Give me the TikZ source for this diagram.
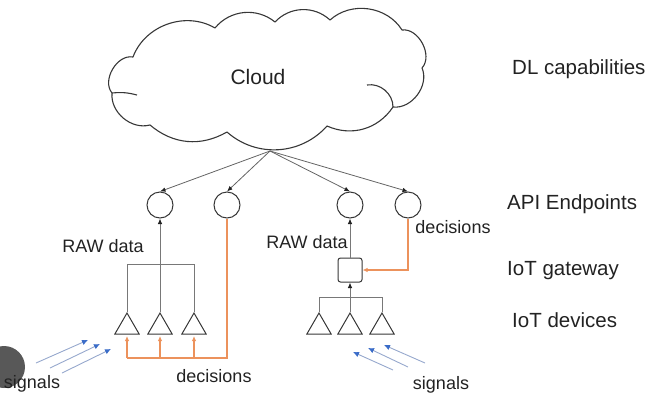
\documentclass[tikz,border=0pt]{standalone}
\usepackage{fontspec}
\setmainfont{Liberation Sans}
\usetikzlibrary{arrows.meta,shapes.geometric}
\definecolor{ink}{RGB}{34,34,34}
\definecolor{outline}{RGB}{55,55,55}
\definecolor{wire}{RGB}{120,120,120}
\definecolor{cloudwire}{RGB}{100,100,100}
\definecolor{decision}{RGB}{236,146,92}
\definecolor{sigshaft}{RGB}{150,168,205}
\definecolor{sigtip}{RGB}{58,108,200}
\definecolor{badge}{RGB}{88,88,88}
\tikzset{
  x=1pt, y=1pt,
  tip/.style={-{Latex[length=5.5pt,width=4.5pt,color=ink]}},
  endpoint/.style={circle, draw=outline, line width=1pt, minimum size=26pt, inner sep=0pt},
  device/.style={regular polygon, regular polygon sides=3, draw=outline, line width=1pt,
                 minimum size=28pt, inner sep=0pt},
  gateway/.style={rectangle, rounded corners=2.5pt, draw=outline, line width=1pt,
                  minimum size=24pt, inner sep=0pt},
  cline/.style={draw=cloudwire, line width=0.8pt, tip},
  gline/.style={draw=wire, line width=0.9pt},
  oline/.style={draw=decision, line width=1.1pt},
  otip/.style={-{Latex[length=5pt,width=4.5pt,color=decision]}},
  signal/.style={draw=sigshaft, line width=0.9pt,
                 -{Latex[length=6pt,width=5.5pt,color=sigtip]}},
  tag/.style={text=ink, font=\fontsize{18}{20}\selectfont, inner sep=0pt},
  layer/.style={text=ink, font=\fontsize{20.5}{23}\selectfont, inner sep=0pt, anchor=base west},
}
\begin{document}
\begin{tikzpicture}
\useasboundingbox (0,0) rectangle (650,-394);

% corner badge
\fill[badge] (4,-367) circle (21);

% cloud outline
\draw[outline, line width=1.1pt, line join=round]
  (112,-93) to[bend left=70] (133,-57)
  to[bend left=50] (215,-28)
  to[bend left=45] (275,-22)
  to[bend left=45] (330,-20)
  to[bend left=50] (402,-30)
  to[bend left=70] (422,-68)
  to[bend left=60] (393,-107)
  to[bend left=40] (327,-126)
  to[bend left=45] (227,-132)
  to[bend left=35] (150,-125)
  to[bend left=55] cycle;
\draw[outline, line width=1.1pt] (367,-85) to[bend left=50] (393,-107);
\draw[outline, line width=1.1pt] (112,-93) to[bend left=10] (137,-95);
\node[text=ink, font=\fontsize{21}{24}\selectfont] (cloud) at (258,-77) {Cloud};
\coordinate (cloudout) at (270,-151);

% API endpoints
\node[endpoint] (c1) at (160,-205) {};
\node[endpoint] (c2) at (227,-205) {};
\node[endpoint] (c3) at (350,-205) {};
\node[endpoint] (c4) at (408,-205) {};

% cloud to endpoints
\draw[cline] (cloudout) -- (c1.north);
\draw[cline] (cloudout) -- (c2.north);
\draw[cline] (cloudout) -- (c3.north);
\draw[cline] (cloudout) -- (c4.north);

% left group: devices wired straight to the cloud
\node[device] (tL1) at (127,-327) {};
\node[device] (tL2) at (160,-327) {};
\node[device] (tL3) at (194,-327) {};
\draw[gline] (tL1.corner 1) -- ++(0,48) -| (tL3.corner 1);
\draw[gline, tip] (tL2.corner 1) -- (c1.south);
\coordinate (oL) at (127,-358);
\draw[oline] (c2.south) |- (oL);
\draw[oline, otip, shorten >=1.5pt] (oL) -- (tL1.south);
\draw[oline, otip, shorten >=1.5pt] (tL2.south |- oL) -- (tL2.south);
\draw[oline, otip, shorten >=1.5pt] (tL3.south |- oL) -- (tL3.south);

% right group: devices behind a gateway
\node[gateway] (gw) at (350,-270) {};
\node[device] (tR1) at (319,-327) {};
\node[device] (tR2) at (350,-327) {};
\node[device] (tR3) at (382,-327) {};
\draw[gline] (tR1.corner 1) -- ++(0,15) -| (tR3.corner 1);
\draw[gline, tip] (tR2.corner 1) -- (gw.south);
\draw[gline, tip] (gw.north) -- (c3.south);
\draw[oline, otip] (c4.south) |- (gw.east);

% incoming signals
\coordinate (sa1) at (36,-363);  \coordinate (sa2) at (88,-340);
\coordinate (sb1) at (50,-368);  \coordinate (sb2) at (100,-344);
\coordinate (sc1) at (62,-373);  \coordinate (sc2) at (111,-349);
\draw[signal] (sa1) -- (sa2);
\draw[signal] (sb1) -- (sb2);
\draw[signal] (sc1) -- (sc2);
\coordinate (sd1) at (393,-370); \coordinate (sd2) at (353,-352);
\coordinate (se1) at (408,-367); \coordinate (se2) at (368,-348);
\coordinate (sf1) at (425,-363); \coordinate (sf2) at (384,-345);
\draw[signal] (sd1) -- (sd2);
\draw[signal] (se1) -- (se2);
\draw[signal] (sf1) -- (sf2);

% flow labels
\node[tag, anchor=base] (rawL) at (103,-252) {RAW data};
\node[tag, anchor=base] (rawR) at (307,-248) {RAW data};
\node[tag, anchor=base] (decR) at (453,-233) {decisions};
\node[tag, anchor=base] (decL) at (214,-382) {decisions};
\node[tag, anchor=base] (sigL) at (32,-388) {signals};
\node[tag, anchor=base] (sigR) at (441,-389) {signals};

% layer labels
\node[layer] (l1) at (512,-74) {DL capabilities};
\node[layer] (l2) at (507,-209) {API Endpoints};
\node[layer] (l3) at (507,-275) {IoT gateway};
\node[layer] (l4) at (512,-327) {IoT devices};
\end{tikzpicture}
\end{document}
